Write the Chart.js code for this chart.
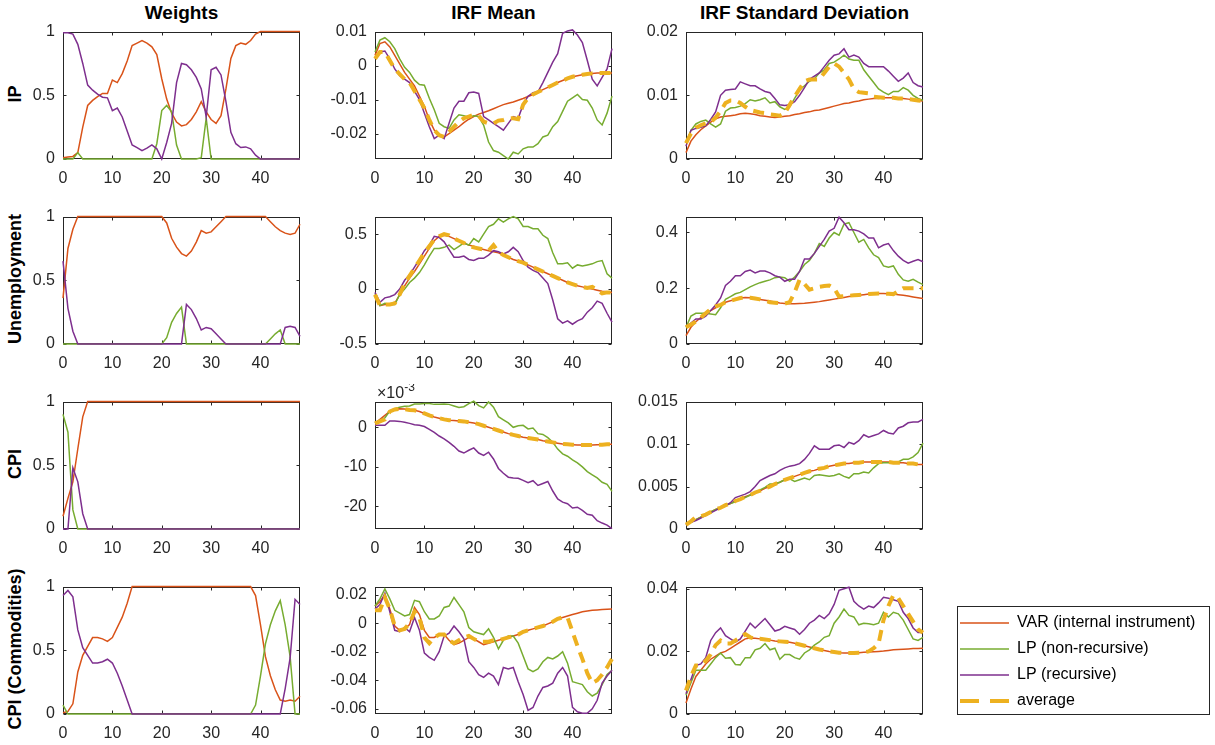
<!DOCTYPE html>
<html lang="en">
<head>
<meta charset="UTF-8">
<title>Weights, IRF Mean and IRF Standard Deviation</title>
<script src="https://cdn.jsdelivr.net/npm/chart.js"></script>
<style>
  body { margin: 0; background: #fff; font-family: "Liberation Sans", Arial, Helvetica, sans-serif; }
  #wrap { position: relative; width: 1215px; height: 745px; overflow: hidden; }
  .panel { position: absolute; }
  .coltitle { position: absolute; top: 2px; font-weight: bold; font-size: 19px; color: #000;
              transform: translateX(-50%); white-space: nowrap; }
  .rowlabel { position: absolute; font-weight: bold; font-size: 18px; color: #000;
              transform: translate(-50%, -50%) rotate(-90deg); white-space: nowrap; }
</style>
</head>
<body>
<div id="wrap"></div>
<script>
// horizons (x axis)
const horizons = [0,1,2,3,4,5,6,7,8,9,10,11,12,13,14,15,16,17,18,19,20,21,22,23,24,
                  25,26,27,28,29,30,31,32,33,34,35,36,37,38,39,40,41,42,43,44,45,46,47,48];
const xTicks = [0, 10, 20, 30, 40];

// ---- IP ----
const ipWVar  = [0.01,0.015,0.02,0.05,0.25,0.42,0.46,0.49,0.515,0.515, 0.62,0.60,0.67,0.77,0.89,0.91,0.93,0.91,0.88,0.82,
                 0.63,0.47,0.36,0.29,0.26,0.27,0.31,0.37,0.45,0.37, 0.31,0.28,0.34,0.55,0.79,0.89,0.91,0.90,0.93,0.98,
                 1,1,1,1,1,1,1,1,1];
const ipWLpNr = [0,0,0,0.05,0,0,0,0,0,0, 0,0,0,0,0,0,0,0,0,0.12, 0.38,0.42,0.37,0.11,0,0,0,0,0.01,0.32,
                 0,0,0,0,0,0,0,0,0,0, 0,0,0,0,0,0,0,0,0];
const ipWLpR  = [0.99,0.99,0.98,0.9,0.75,0.58,0.54,0.51,0.485,0.48, 0.38,0.40,0.33,0.22,0.11,0.09,0.065,0.085,0.11,0.08,
                 0.0,0.13,0.28,0.6,0.75,0.74,0.70,0.64,0.55,0.33, 0.70,0.72,0.66,0.45,0.21,0.12,0.09,0.095,0.08,0.03,
                 0,0,0,0,0,0,0,0,0];

const ipMeanVar  = [0.003,0.0065,0.007,0.0055,0.003,0.0005,-0.002,-0.004,-0.006,-0.009, -0.012,-0.016,-0.019,-0.0205,-0.021,-0.020,-0.019,-0.018,-0.0168,-0.0158,
                    -0.015,-0.0143,-0.0138,-0.0133,-0.0127,-0.0121,-0.0115,-0.0111,-0.0107,-0.0102, -0.0097,-0.0091,-0.0085,-0.0078,-0.0071,-0.0064,-0.0057,-0.005,-0.0044,-0.0038,
                    -0.0033,-0.003,-0.0027,-0.0025,-0.0023,-0.0022,-0.0022,-0.0022,-0.0022];
const ipMeanLpNr = [0.004,0.0075,0.0082,0.007,0.005,0.002,-0.0005,-0.002,-0.0043,-0.0056, -0.0058,-0.0096,-0.013,-0.017,-0.018,-0.0185,-0.016,-0.0145,-0.0148,-0.0152,
                    -0.0148,-0.015,-0.0175,-0.0225,-0.025,-0.0255,-0.0265,-0.0275,-0.0255,-0.026, -0.0245,-0.024,-0.024,-0.023,-0.021,-0.0205,-0.018,-0.0165,-0.0135,-0.0105,
                    -0.0095,-0.0085,-0.01,-0.0102,-0.0125,-0.016,-0.0175,-0.014,-0.009];
const ipMeanLpR  = [0.002,0.004,0.0043,0.002,-0.001,-0.003,-0.004,-0.005,-0.0075,-0.01, -0.014,-0.018,-0.0215,-0.0205,-0.0215,-0.017,-0.0125,-0.0105,-0.0105,-0.008,
                    -0.0078,-0.0082,-0.015,-0.016,-0.017,-0.018,-0.019,-0.017,-0.015,-0.0155, -0.0115,-0.009,-0.008,-0.0077,-0.005,-0.002,0.001,0.0035,0.0095,0.0102,
                    0.0105,0.009,0.0068,0.0015,-0.004,-0.006,-0.0035,-0.001,0.005];
const ipMeanAvg  = [0.002,0.004,0.004,0.0015,-0.001,-0.0025,-0.004,-0.005,-0.0075,-0.01, -0.0125,-0.016,-0.019,-0.0205,-0.021,-0.0195,-0.018,-0.0165,-0.0155,-0.015,
                    -0.0145,-0.0148,-0.0165,-0.017,-0.017,-0.0162,-0.016,-0.0155,-0.0155,-0.0158, -0.0115,-0.0095,-0.0085,-0.0078,-0.0071,-0.0064,-0.0057,-0.005,-0.0044,-0.0038,
                    -0.0033,-0.003,-0.0027,-0.0025,-0.0023,-0.0022,-0.0022,-0.0022,-0.0022];

const ipSdVar  = [0.001,0.0028,0.0038,0.0046,0.0052,0.0058,0.0063,0.0066,0.0067,0.0068, 0.0069,0.0071,0.0072,0.0071,0.0070,0.0068,0.0067,0.0066,0.0065,0.0066,
                  0.0067,0.0068,0.0070,0.0071,0.0073,0.0074,0.0076,0.0077,0.0079,0.0081, 0.0083,0.0085,0.0087,0.0088,0.009,0.0091,0.0093,0.0094,0.0095,0.0095,
                  0.0096,0.0096,0.0096,0.0095,0.0095,0.0094,0.0093,0.0092,0.0091];
const ipSdLpNr = [0.0025,0.0045,0.0055,0.0059,0.0061,0.0055,0.005,0.0055,0.0075,0.008, 0.0081,0.0083,0.0087,0.0093,0.0091,0.0093,0.0096,0.0088,0.009,0.0082,
                  0.0078,0.0082,0.0095,0.0108,0.0115,0.0122,0.0126,0.0135,0.014,0.015, 0.0152,0.0157,0.0163,0.0157,0.0155,0.0155,0.014,0.013,0.012,0.011,
                  0.0105,0.0101,0.0106,0.0106,0.0112,0.0108,0.01,0.0095,0.0092];
const ipSdLpR  = [0.002,0.0045,0.0048,0.005,0.0052,0.0062,0.0074,0.01,0.0108,0.0109, 0.011,0.0121,0.0118,0.0115,0.0115,0.011,0.0106,0.0104,0.0095,0.0085,
                  0.0084,0.0085,0.009,0.01,0.0112,0.0125,0.013,0.0135,0.0145,0.0155, 0.0163,0.0165,0.0173,0.016,0.0163,0.016,0.015,0.0145,0.0145,0.0145,
                  0.0145,0.0138,0.013,0.0122,0.0127,0.0135,0.012,0.0115,0.0113];
const ipSdAvg  = [0.0025,0.004,0.0049,0.0053,0.0056,0.0058,0.0065,0.0075,0.0088,0.0092, 0.0092,0.0088,0.0082,0.0077,0.0075,0.0073,0.0072,0.007,0.0069,0.0068,
                  0.0072,0.0085,0.0098,0.011,0.0122,0.0125,0.0125,0.0125,0.0135,0.0145, 0.015,0.0145,0.0135,0.0125,0.011,0.0105,0.0104,0.0103,0.0098,0.0097,
                  0.0096,0.0096,0.0096,0.0095,0.0095,0.0094,0.0093,0.0092,0.0091];

// ---- Unemployment ----
const unWVar  = [0.36,0.75,0.9,1,1,1,1,1,1,1, 1,1,1,1,1,1,1,1,1,1, 1,0.95,0.83,0.76,0.71,0.69,0.73,0.8,0.89,0.87,
                 0.88,0.92,0.96,1,1,1,1,1,1,1, 1,1,0.96,0.92,0.89,0.87,0.86,0.87,0.94];
const unWLpNr = [0,0,0,0,0,0,0,0,0,0, 0,0,0,0,0,0,0,0,0,0, 0,0.05,0.17,0.24,0.29,0,0,0,0,0,
                 0,0,0,0,0,0,0,0,0,0, 0,0,0.04,0.08,0.11,0,0,0,0];
const unWLpR  = [0.65,0.28,0.1,0,0,0,0,0,0,0, 0,0,0,0,0,0,0,0,0,0, 0,0,0,0,0,0.31,0.27,0.2,0.11,0.13,
                 0.12,0.08,0.04,0,0,0,0,0,0,0, 0,0,0,0,0,0.13,0.14,0.13,0.06];

const unMeanVar  = [-0.06,-0.15,-0.14,-0.14,-0.13,-0.05,0.03,0.1,0.16,0.23, 0.3,0.37,0.44,0.48,0.49,0.48,0.46,0.44,0.42,0.40,
                    0.39,0.37,0.36,0.35,0.34,0.33,0.31,0.29,0.27,0.255, 0.24,0.22,0.2,0.18,0.16,0.14,0.12,0.1,0.08,0.06,
                    0.045,0.03,0.02,0.01,0.0,-0.01,-0.02,-0.025,-0.03];
const unMeanLpNr = [-0.04,-0.15,-0.13,-0.14,-0.14,-0.05,0.0,0.06,0.1,0.15, 0.22,0.3,0.37,0.37,0.38,0.4,0.36,0.39,0.42,0.4,
                    0.46,0.43,0.5,0.57,0.59,0.64,0.61,0.64,0.66,0.64, 0.57,0.57,0.55,0.55,0.49,0.46,0.33,0.23,0.23,0.24,
                    0.19,0.22,0.21,0.22,0.23,0.25,0.26,0.14,0.1];
const unMeanLpR  = [-0.03,-0.12,-0.08,-0.07,-0.05,0.0,0.08,0.13,0.2,0.27, 0.35,0.4,0.48,0.47,0.43,0.36,0.29,0.29,0.3,0.27,
                    0.26,0.28,0.28,0.31,0.35,0.34,0.32,0.34,0.38,0.34, 0.26,0.2,0.17,0.15,0.1,0.05,-0.1,-0.27,-0.31,-0.29,
                    -0.32,-0.29,-0.27,-0.21,-0.17,-0.11,-0.13,-0.22,-0.3];
const unMeanAvg  = [-0.05,-0.15,-0.14,-0.14,-0.13,-0.05,0.05,0.12,0.19,0.26, 0.33,0.39,0.45,0.48,0.5,0.49,0.46,0.44,0.42,0.39,
                    0.38,0.37,0.36,0.35,0.4,0.34,0.31,0.29,0.27,0.255, 0.24,0.22,0.2,0.18,0.16,0.14,0.12,0.1,0.08,0.06,
                    0.045,0.03,0.02,0.01,0.02,-0.01,-0.04,-0.03,-0.03];

const unSdVar  = [0.03,0.06,0.08,0.095,0.11,0.12,0.13,0.14,0.15,0.155, 0.16,0.165,0.167,0.166,0.163,0.16,0.157,0.154,0.15,0.147,
                  0.145,0.144,0.144,0.145,0.146,0.148,0.15,0.152,0.155,0.158, 0.161,0.164,0.167,0.17,0.172,0.175,0.177,0.179,0.18,0.181,
                  0.181,0.18,0.179,0.177,0.175,0.172,0.169,0.166,0.163];
const unSdLpNr = [0.06,0.1,0.11,0.11,0.11,0.108,0.105,0.13,0.16,0.17, 0.18,0.185,0.195,0.205,0.213,0.22,0.225,0.23,0.238,0.24,
                  0.238,0.225,0.24,0.26,0.285,0.3,0.325,0.36,0.35,0.38, 0.4,0.39,0.43,0.435,0.4,0.365,0.375,0.345,0.32,0.31,
                  0.28,0.275,0.28,0.25,0.23,0.225,0.232,0.222,0.213];
const unSdLpR  = [0.065,0.075,0.09,0.09,0.1,0.12,0.14,0.165,0.21,0.225, 0.245,0.245,0.26,0.265,0.255,0.262,0.262,0.255,0.245,0.24,
                  0.225,0.232,0.232,0.26,0.305,0.305,0.325,0.35,0.375,0.405, 0.415,0.455,0.435,0.41,0.41,0.405,0.395,0.38,0.38,0.345,
                  0.355,0.36,0.335,0.315,0.3,0.29,0.297,0.303,0.295];
const unSdAvg  = [0.06,0.07,0.08,0.095,0.11,0.125,0.135,0.14,0.15,0.155, 0.16,0.165,0.167,0.166,0.163,0.16,0.155,0.15,0.148,0.146,
                  0.145,0.15,0.185,0.23,0.215,0.195,0.2,0.205,0.208,0.21, 0.2,0.17,0.172,0.173,0.175,0.176,0.177,0.179,0.18,0.181,
                  0.181,0.18,0.179,0.19,0.2,0.2,0.2,0.2,0.2];

// ---- CPI ----
const cpiWVar  = [0.1,0.24,0.37,0.63,0.88,1,1,1,1,1, 1,1,1,1,1,1,1,1,1,1, 1,1,1,1,1,1,1,1,1,1,
                  1,1,1,1,1,1,1,1,1,1, 1,1,1,1,1,1,1,1,1];
const cpiWLpNr = [0.9,0.76,0.15,0,0,0,0,0,0,0, 0,0,0,0,0,0,0,0,0,0, 0,0,0,0,0,0,0,0,0,0,
                  0,0,0,0,0,0,0,0,0,0, 0,0,0,0,0,0,0,0,0];
const cpiWLpR  = [0,0,0.48,0.37,0.12,0,0,0,0,0, 0,0,0,0,0,0,0,0,0,0, 0,0,0,0,0,0,0,0,0,0,
                  0,0,0,0,0,0,0,0,0,0, 0,0,0,0,0,0,0,0,0];

// CPI IRF mean in units of 10^-3
const cpiMeanVar  = [1.0,2.0,3.0,4.0,4.5,4.7,4.6,4.4,4.3,4.0, 3.5,3.0,2.6,2.3,2.0,1.8,1.7,1.6,1.5,1.3,
                     1.1,0.8,0.4,0.0,-0.4,-0.8,-1.2,-1.6,-1.9,-2.2, -2.5,-2.7,-2.9,-3.1,-3.4,-3.6,-3.8,-4.0,-4.2,-4.3,
                     -4.4,-4.5,-4.5,-4.5,-4.5,-4.4,-4.4,-4.3,-4.3];
const cpiMeanLpNr = [1.1,1.8,2.4,4.1,4.7,5.1,5.3,5.4,5.9,5.9, 6.0,6.0,5.8,5.8,5.9,5.8,5.4,5.0,5.2,6.0,
                     6.6,5.5,4.9,6.4,5.1,2.7,1.9,1.1,0.0,0.4, 0.5,-0.4,-0.2,-1.6,-1.8,-2.6,-3.8,-5.5,-6.7,-7.3,
                     -8.2,-9.0,-10.0,-11.2,-12.0,-12.8,-13.9,-14.4,-16.2];
const cpiMeanLpR  = [0.5,0.5,0.5,1.6,1.6,1.5,1.3,1.0,0.65,0.5, 0.2,-0.5,-1.3,-2.2,-2.9,-3.8,-4.8,-6.0,-6.5,-5.8,
                     -5.2,-6.5,-7.1,-6.3,-8.0,-10.4,-11.6,-12.6,-12.8,-12.9, -13.4,-14.0,-13.5,-14.7,-14.2,-13.7,-16.1,-18.1,-18.9,-19.3,
                     -20.4,-20.2,-21.0,-22.0,-22.2,-23.6,-24.2,-24.7,-25.6];
const cpiMeanAvg  = [1.0,1.5,2.0,4.0,4.5,4.7,4.6,4.4,4.3,4.0, 3.5,3.0,2.6,2.3,2.0,1.8,1.7,1.6,1.5,1.3,
                     1.1,0.8,0.4,0.0,-0.4,-0.8,-1.2,-1.6,-1.9,-2.2, -2.5,-2.7,-2.9,-3.1,-3.4,-3.6,-3.8,-4.0,-4.2,-4.3,
                     -4.4,-4.5,-4.5,-4.5,-4.5,-4.4,-4.4,-4.3,-4.3];

const cpiSdVar  = [0.0005,0.0008,0.0011,0.0014,0.0017,0.002,0.0023,0.0025,0.0028,0.003, 0.0033,0.0035,0.0038,0.004,0.0043,0.0045,0.0048,0.005,0.0053,0.0055,
                   0.0058,0.006,0.0062,0.0064,0.0066,0.0068,0.0069,0.0071,0.0072,0.0074, 0.0075,0.0076,0.0077,0.0077,0.0078,0.0078,0.0079,0.0079,0.0079,0.0079,
                   0.0079,0.0079,0.0078,0.0078,0.0078,0.0077,0.0077,0.0076,0.0076];
const cpiSdLpNr = [0.0005,0.0008,0.0011,0.0014,0.0017,0.002,0.0023,0.0025,0.0028,0.003, 0.0032,0.0035,0.0037,0.004,0.0043,0.0046,0.0049,0.0053,0.0053,0.0055,
                   0.0058,0.0059,0.0056,0.0058,0.006,0.0058,0.0063,0.0064,0.0063,0.0062, 0.0063,0.0065,0.0062,0.006,0.0065,0.0065,0.0067,0.0066,0.0072,0.0077,
                   0.0078,0.0078,0.0079,0.0079,0.0082,0.0082,0.0085,0.009,0.0101];
const cpiSdLpR  = [0.0005,0.0008,0.001,0.0013,0.0016,0.0019,0.0022,0.0025,0.0027,0.0031, 0.0037,0.0039,0.0041,0.0044,0.005,0.0057,0.006,0.0063,0.0065,0.0069,
                   0.0072,0.0074,0.0075,0.0077,0.0082,0.0089,0.0098,0.0094,0.0094,0.0094, 0.0098,0.0099,0.0096,0.0102,0.01,0.0104,0.0111,0.0108,0.011,0.0112,
                   0.0116,0.0113,0.0112,0.0119,0.0121,0.0125,0.0126,0.0126,0.0129];
const cpiSdAvg  = [0.0005,0.0009,0.0014,0.0015,0.0017,0.002,0.0023,0.0025,0.0028,0.003, 0.0033,0.0035,0.0038,0.004,0.0043,0.0045,0.0048,0.005,0.0053,0.0055,
                   0.0058,0.006,0.0062,0.0064,0.0066,0.0068,0.0069,0.0071,0.0072,0.0074, 0.0075,0.0076,0.0077,0.0077,0.0078,0.0078,0.0079,0.0079,0.0079,0.0079,
                   0.0079,0.0079,0.0078,0.0078,0.0078,0.0077,0.0077,0.0076,0.0076];

// ---- CPI (Commodities) ----
const cmWVar  = [0.01,0.02,0.08,0.33,0.46,0.53,0.6,0.6,0.59,0.57, 0.6,0.68,0.76,0.87,1,1,1,1,1,1, 1,1,1,1,1,1,1,1,1,1,
                 1,1,1,1,1,1,1,1,1,0.93, 0.7,0.45,0.3,0.19,0.11,0.1,0.11,0.1,0.14];
const cmWLpNr = [0.07,0,0,0,0,0,0,0,0,0, 0,0,0,0,0,0,0,0,0,0, 0,0,0,0,0,0,0,0,0,0,
                 0,0,0,0,0,0,0,0,0,0.07, 0.3,0.55,0.7,0.81,0.89,0.7,0.45,0,0];
const cmWLpR  = [0.93,0.97,0.92,0.66,0.52,0.46,0.4,0.4,0.41,0.43, 0.4,0.32,0.22,0.11,0,0,0,0,0,0, 0,0,0,0,0,0,0,0,0,0,
                 0,0,0,0,0,0,0,0,0,0, 0,0,0,0,0,0.2,0.44,0.9,0.86];

const cmMeanVar  = [0.012,0.015,0.02,0.01,-0.002,-0.005,-0.004,-0.001,0.011,0.006, -0.005,-0.01,-0.01,-0.008,-0.008,-0.012,-0.015,-0.014,-0.012,-0.01,
                    -0.011,-0.013,-0.015,-0.014,-0.013,-0.012,-0.011,-0.01,-0.009,-0.008, -0.006,-0.005,-0.004,-0.003,-0.002,-0.0005,0.001,0.003,0.004,0.005,
                    0.006,0.007,0.008,0.0085,0.009,0.0093,0.0096,0.0098,0.01];
const cmMeanLpNr = [0.012,0.017,0.024,0.017,0.009,0.007,0.005,0.006,0.016,0.015, 0.008,0.003,0.003,0.005,0.011,0.012,0.018,0.013,0.008,-0.003,
                    -0.006,-0.007,-0.008,-0.004,-0.01,-0.018,-0.012,-0.009,-0.009,-0.014, -0.023,-0.032,-0.034,-0.032,-0.027,-0.024,-0.025,-0.023,-0.02,-0.028,
                    -0.041,-0.042,-0.043,-0.048,-0.051,-0.049,-0.043,-0.036,-0.033];
const cmMeanLpR  = [0.01,0.013,0.021,0.008,-0.005,-0.006,-0.003,-0.006,0.004,-0.005, -0.021,-0.024,-0.026,-0.02,-0.009,-0.007,-0.002,-0.006,-0.011,-0.027,
                    -0.031,-0.036,-0.038,-0.035,-0.037,-0.043,-0.031,-0.032,-0.031,-0.041, -0.05,-0.061,-0.059,-0.051,-0.045,-0.044,-0.042,-0.035,-0.031,-0.037,
                    -0.059,-0.062,-0.063,-0.063,-0.06,-0.054,-0.042,-0.037,-0.033];
const cmMeanAvg  = [0.009,0.009,0.018,0.01,-0.002,-0.005,-0.004,0.0,0.008,0.004, -0.01,-0.014,-0.01,-0.008,-0.008,-0.012,-0.014,-0.012,-0.01,-0.009,
                    -0.011,-0.013,-0.013,-0.013,-0.012,-0.012,-0.011,-0.01,-0.009,-0.008, -0.006,-0.005,-0.004,-0.003,-0.002,-0.0005,0.001,0.003,0.004,0.004,
                    -0.006,-0.016,-0.025,-0.035,-0.042,-0.04,-0.036,-0.031,-0.025];

const cmSdVar  = [0.0035,0.008,0.012,0.014,0.016,0.0175,0.0185,0.0195,0.02,0.021, 0.022,0.023,0.024,0.0243,0.0242,0.024,0.0238,0.0236,0.0233,0.0232,
                  0.0231,0.0229,0.0226,0.0222,0.0218,0.0214,0.021,0.0206,0.0203,0.02, 0.0198,0.0196,0.0195,0.0195,0.0195,0.0196,0.0197,0.0198,0.0199,0.02,
                  0.0201,0.0203,0.0205,0.0206,0.0207,0.0208,0.0209,0.0209,0.021];
const cmSdLpNr = [0.006,0.01,0.014,0.014,0.014,0.016,0.018,0.0195,0.0178,0.018, 0.0158,0.0157,0.018,0.018,0.0205,0.021,0.0225,0.0205,0.021,0.0175,
                  0.019,0.019,0.018,0.0175,0.0195,0.0205,0.022,0.023,0.0245,0.025, 0.029,0.031,0.0335,0.0315,0.031,0.0285,0.029,0.0288,0.0285,0.029,
                  0.0325,0.031,0.0325,0.032,0.03,0.027,0.024,0.0235,0.0245];
const cmSdLpR  = [0.0065,0.011,0.0155,0.016,0.018,0.0235,0.026,0.0275,0.025,0.024, 0.023,0.024,0.0265,0.029,0.0275,0.029,0.0305,0.0285,0.0265,0.027,
                  0.028,0.0275,0.027,0.0255,0.027,0.029,0.03,0.0315,0.0305,0.032, 0.035,0.0395,0.04,0.0405,0.036,0.0345,0.0335,0.0345,0.034,0.0355,
                  0.0373,0.037,0.0365,0.036,0.0325,0.0305,0.0275,0.026,0.026];
const cmSdAvg  = [0.0075,0.012,0.0155,0.0155,0.017,0.019,0.022,0.0235,0.0225,0.0225, 0.0235,0.0245,0.0255,0.0245,0.024,0.024,0.0238,0.0236,0.0233,0.0232,
                  0.0231,0.023,0.0226,0.0222,0.0218,0.0214,0.021,0.0206,0.0203,0.02, 0.0198,0.0196,0.0195,0.0195,0.0195,0.0196,0.0197,0.02,0.021,0.0225,
                  0.03,0.0345,0.038,0.037,0.0345,0.032,0.0295,0.027,0.026];

const colTitles = ['Weights', 'IRF Mean', 'IRF Standard Deviation'];
const rowLabels = ['IP', 'Unemployment', 'CPI', 'CPI (Commodities)'];

const FONT = '"Liberation Sans", Arial, Helvetica, sans-serif';
const SERIES = [
  { label: 'VAR (internal instrument)', color: '#D95319', width: 1.5, dash: [],      legendDash: [],       order: 3 },
  { label: 'LP (non-recursive)',        color: '#77AC30', width: 1.5, dash: [],      legendDash: [],       order: 2 },
  { label: 'LP (recursive)',            color: '#7E2F8E', width: 1.5, dash: [],      legendDash: [],       order: 1 },
  { label: 'average',                   color: '#EDB120', width: 4,   dash: [11, 7], legendDash: [19, 11], order: 0 }
];

const W01 = { min: 0, max: 1, ticks: [0, 0.5, 1] };
const panels = [
  { row: 0, col: 0, data: [ipWVar, ipWLpNr, ipWLpR], y: W01 },
  { row: 0, col: 1, data: [ipMeanVar, ipMeanLpNr, ipMeanLpR, ipMeanAvg], y: { min: -0.0275, max: 0.01, ticks: [-0.02, -0.01, 0, 0.01] } },
  { row: 0, col: 2, data: [ipSdVar, ipSdLpNr, ipSdLpR, ipSdAvg], y: { min: 0, max: 0.02, ticks: [0, 0.01, 0.02] } },
  { row: 1, col: 0, data: [unWVar, unWLpNr, unWLpR], y: W01 },
  { row: 1, col: 1, data: [unMeanVar, unMeanLpNr, unMeanLpR, unMeanAvg], y: { min: -0.5, max: 0.66, ticks: [-0.5, 0, 0.5] } },
  { row: 1, col: 2, data: [unSdVar, unSdLpNr, unSdLpR, unSdAvg], y: { min: 0, max: 0.457, ticks: [0, 0.2, 0.4] } },
  { row: 2, col: 0, data: [cpiWVar, cpiWLpNr, cpiWLpR], y: W01 },
  { row: 2, col: 1, data: [cpiMeanVar, cpiMeanLpNr, cpiMeanLpR, cpiMeanAvg], y: { min: -25.7, max: 6.5, ticks: [-20, -10, 0] }, exponent: '-3' },
  { row: 2, col: 2, data: [cpiSdVar, cpiSdLpNr, cpiSdLpR, cpiSdAvg], y: { min: 0, max: 0.015, ticks: [0, 0.005, 0.01, 0.015] } },
  { row: 3, col: 0, data: [cmWVar, cmWLpNr, cmWLpR], y: W01 },
  { row: 3, col: 1, data: [cmMeanVar, cmMeanLpNr, cmMeanLpR, cmMeanAvg], y: { min: -0.0636, max: 0.0256, ticks: [-0.06, -0.04, -0.02, 0, 0.02] } },
  { row: 3, col: 2, data: [cmSdVar, cmSdLpNr, cmSdLpR, cmSdAvg], y: { min: 0, max: 0.0407, ticks: [0, 0.02, 0.04] } }
];

// page geometry of the plot boxes
const colLeft = [63, 375, 686];
const rowTop = [28, 213, 398, 583];
const plotW = 237, plotH = 131;
const PAD_L = 70, PAD_T = 14, PAD_R = 8, PAD_B = 30;

const fmtTick = v => Math.abs(v) < 1e-12 ? '0' : String(+v.toPrecision(6));

// MATLAB style box with inward ticks, drawn under the lines
const boxPlugin = {
  id: 'matlabBox',
  beforeDatasetsDraw(chart, args, opts) {
    const { ctx, chartArea: a, scales: { x, y } } = chart;
    const L = Math.round(a.left) + 0.5, R = Math.round(a.right) - 0.5;
    const T = Math.round(a.top) + 0.5, B = Math.round(a.bottom) - 0.5;
    ctx.save();
    ctx.strokeStyle = '#262626';
    ctx.lineWidth = 1;
    ctx.strokeRect(L, T, R - L, B - T);
    ctx.beginPath();
    x.ticks.forEach(t => {
      const px = Math.round(x.getPixelForValue(t.value)) + 0.5;
      ctx.moveTo(px, B); ctx.lineTo(px, B - 3);
      ctx.moveTo(px, T); ctx.lineTo(px, T + 3);
    });
    y.ticks.forEach(t => {
      const py = Math.round(y.getPixelForValue(t.value)) + 0.5;
      ctx.moveTo(L, py); ctx.lineTo(L + 3, py);
      ctx.moveTo(R, py); ctx.lineTo(R - 3, py);
    });
    ctx.stroke();
    if (opts.exponent) {
      ctx.fillStyle = '#262626';
      ctx.textBaseline = 'alphabetic';
      ctx.font = '16px ' + FONT;
      ctx.fillText('\u00d710', a.left + 2, a.top - 4);
      const w = ctx.measureText('\u00d710').width;
      ctx.font = '12px ' + FONT;
      ctx.fillText(opts.exponent, a.left + 2 + w, a.top - 11);
    }
    ctx.restore();
  }
};

const wrap = document.getElementById('wrap');

colTitles.forEach((t, c) => {
  const d = document.createElement('div');
  d.className = 'coltitle';
  d.textContent = t;
  d.style.left = (colLeft[c] + plotW / 2) + 'px';
  wrap.appendChild(d);
});
rowLabels.forEach((t, r) => {
  const d = document.createElement('div');
  d.className = 'rowlabel';
  d.textContent = t;
  d.style.left = '15px';
  d.style.top = (rowTop[r] + plotH / 2) + 'px';
  wrap.appendChild(d);
});

panels.forEach(p => {
  const div = document.createElement('div');
  div.className = 'panel';
  const w = plotW + PAD_L + PAD_R, h = plotH + PAD_T + PAD_B;
  div.style.left = (colLeft[p.col] - PAD_L) + 'px';
  div.style.top = (rowTop[p.row] - PAD_T) + 'px';
  const canvas = document.createElement('canvas');
  canvas.width = w; canvas.height = h;
  canvas.style.width = w + 'px'; canvas.style.height = h + 'px';
  div.appendChild(canvas);
  wrap.appendChild(div);

  const datasets = p.data.map((arr, i) => ({
    label: SERIES[i].label,
    data: horizons.map((hz, k) => ({ x: hz, y: arr[k] })),
    borderColor: SERIES[i].color,
    borderWidth: SERIES[i].width,
    borderDash: SERIES[i].dash,
    order: SERIES[i].order,
    pointRadius: 0,
    tension: 0,
    fill: false,
    clip: 3
  }));

  new Chart(canvas, {
    type: 'line',
    data: { datasets },
    options: {
      responsive: false,
      animation: false,
      events: [],
      layout: { padding: { left: 0, top: PAD_T, right: PAD_R, bottom: 0 } },
      plugins: {
        legend: { display: false },
        tooltip: { enabled: false },
        matlabBox: { exponent: p.exponent }
      },
      scales: {
        x: {
          type: 'linear', min: 0, max: 48, bounds: 'data',
          grid: { display: false, drawTicks: false }, border: { display: false },
          afterBuildTicks: s => { s.ticks = xTicks.map(v => ({ value: v })); },
          afterFit: s => { s.height = PAD_B; },
          ticks: { autoSkip: false, maxRotation: 0, padding: 10, color: '#262626',
                   font: { size: 16, family: FONT }, callback: v => String(v) }
        },
        y: {
          type: 'linear', min: p.y.min, max: p.y.max, bounds: 'data',
          grid: { display: false, drawTicks: false }, border: { display: false },
          afterBuildTicks: s => { s.ticks = p.y.ticks.map(v => ({ value: v })); },
          afterFit: s => { s.width = PAD_L; },
          ticks: { autoSkip: false, padding: 8, color: '#262626',
                   font: { size: 16, family: FONT }, callback: v => fmtTick(v) }
        }
      }
    },
    plugins: [boxPlugin]
  });
});

// legend, drawn by Chart.js on its own canvas with a framed box
const LG_W = 265, LG_H = 130;
const legendFrame = {
  id: 'legendFrame',
  afterDraw(chart) {
    const ctx = chart.ctx;
    ctx.save();
    ctx.strokeStyle = '#262626';
    ctx.lineWidth = 1;
    ctx.strokeRect(7.5, 1.5, 252, 108);
    ctx.restore();
  }
};
const lgDiv = document.createElement('div');
lgDiv.className = 'panel';
lgDiv.style.left = '950px';
lgDiv.style.top = '605px';
const lgCanvas = document.createElement('canvas');
lgCanvas.width = LG_W; lgCanvas.height = LG_H;
lgCanvas.style.width = LG_W + 'px'; lgCanvas.style.height = LG_H + 'px';
lgDiv.appendChild(lgCanvas);
wrap.appendChild(lgDiv);

new Chart(lgCanvas, {
  type: 'line',
  data: {
    datasets: SERIES.map(s => ({ label: s.label, data: [], borderColor: s.color, borderWidth: s.width, borderDash: s.legendDash }))
  },
  options: {
    responsive: false,
    animation: false,
    events: [],
    scales: { x: { display: false }, y: { display: false } },
    plugins: {
      tooltip: { enabled: false },
      legend: {
        display: true, position: 'top', align: 'start',
        maxHeight: LG_H, maxWidth: LG_W,
        labels: {
          usePointStyle: true, pointStyleWidth: 49, padding: 10, color: '#000',
          font: { size: 16, family: FONT },
          generateLabels: chart => chart.data.datasets.map((d, i) => ({
            text: d.label, strokeStyle: d.borderColor, fillStyle: d.borderColor,
            lineWidth: d.borderWidth, lineDash: d.borderDash, pointStyle: 'line',
            datasetIndex: i, hidden: false
          }))
        }
      }
    }
  },
  plugins: [legendFrame]
});
</script>
</body>
</html>
